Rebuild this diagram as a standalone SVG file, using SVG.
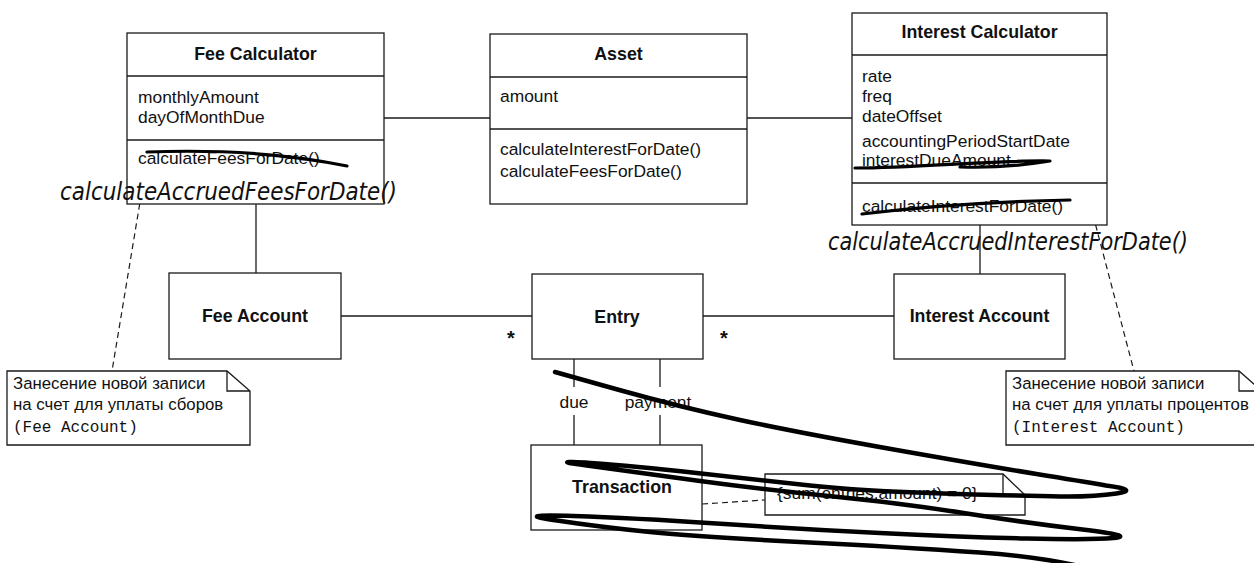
<svg xmlns="http://www.w3.org/2000/svg" width="1254" height="563" viewBox="0 0 1254 563">
<style>
.box{fill:#fff;stroke:#1a1a1a;stroke-width:1.3}
.sep{stroke:#1a1a1a;stroke-width:1.3}
.ln{stroke:#1a1a1a;stroke-width:1.3;fill:none}
.dash{stroke:#1a1a1a;stroke-width:1.2;fill:none;stroke-dasharray:6,4}
.t{font-family:"Liberation Sans",Arial,sans-serif;font-size:17.4px;fill:#111}
.n{font-family:"Liberation Sans",Arial,sans-serif;font-size:16.8px;fill:#111}
.b{font-family:"Liberation Sans",Arial,sans-serif;font-size:17.8px;font-weight:bold;fill:#111;text-anchor:middle}
.m{font-family:"Liberation Mono","Courier New",monospace;font-size:16px;fill:#111}
.hand{font-family:"DejaVu Sans",sans-serif;font-style:italic;font-size:24px;fill:#111}
.scr{fill:none;stroke:#000;stroke-width:4.5;stroke-linecap:round;stroke-linejoin:round}
.scr3{fill:none;stroke:#000;stroke-width:3.2;stroke-linecap:round;stroke-linejoin:round}
.star{font-family:"Liberation Sans",Arial,sans-serif;font-size:20px;font-weight:bold;fill:#111;text-anchor:middle}
</style>
<rect width="1254" height="563" fill="#fff"/>
<g id="connectors">
<line class="ln" x1="384" y1="118" x2="490" y2="118"/>
<line class="ln" x1="747" y1="118" x2="852" y2="118"/>
<line class="ln" x1="256" y1="204" x2="256" y2="273"/>
<line class="ln" x1="980" y1="225" x2="980" y2="274"/>
<line class="ln" x1="341" y1="316" x2="532" y2="316"/>
<line class="ln" x1="703" y1="316" x2="894" y2="316"/>
<line class="ln" x1="574" y1="359" x2="574" y2="387"/>
<line class="ln" x1="574" y1="415" x2="574" y2="445"/>
<line class="ln" x1="660" y1="359" x2="660" y2="387"/>
<line class="ln" x1="660" y1="415" x2="660" y2="445"/>
<text class="star" x="511" y="345">*</text>
<text class="star" x="724" y="345">*</text>
<text class="t" x="574" y="408" text-anchor="middle">due</text>
<text class="t" x="658" y="408" text-anchor="middle">payment</text>
<line class="dash" x1="143" y1="184" x2="112" y2="371"/>
<line class="dash" x1="1093" y1="215" x2="1134" y2="371"/>
<line class="dash" x1="702" y1="504" x2="765" y2="500"/>
<circle cx="143" cy="180" r="4" fill="#fff" stroke="#1a1a1a" stroke-width="1.2"/>
<circle cx="1093" cy="211" r="4" fill="#fff" stroke="#1a1a1a" stroke-width="1.2"/>
</g>
<g id="fee-calculator">
<rect class="box" x="127" y="33" width="257" height="171"/>
<line class="sep" x1="127" y1="76" x2="384" y2="76"/>
<line class="sep" x1="127" y1="140" x2="384" y2="140"/>
<text class="b" x="255.5" y="60">Fee Calculator</text>
<text class="t" x="138" y="103">monthlyAmount</text>
<text class="t" x="138" y="123">dayOfMonthDue</text>
<text class="t" x="138" y="164">calculateFeesForDate()</text>
</g>
<g id="asset">
<rect class="box" x="490" y="34" width="257" height="170"/>
<line class="sep" x1="490" y1="77" x2="747" y2="77"/>
<line class="sep" x1="490" y1="129" x2="747" y2="129"/>
<text class="b" x="618.5" y="60">Asset</text>
<text class="t" x="500" y="102">amount</text>
<text class="t" x="500" y="155">calculateInterestForDate()</text>
<text class="t" x="500" y="177">calculateFeesForDate()</text>
</g>
<g id="interest-calculator">
<rect class="box" x="852" y="13" width="255" height="212"/>
<line class="sep" x1="852" y1="55" x2="1107" y2="55"/>
<line class="sep" x1="852" y1="183" x2="1107" y2="183"/>
<text class="b" x="979.5" y="38">Interest Calculator</text>
<text class="t" x="862" y="82">rate</text>
<text class="t" x="862" y="102">freq</text>
<text class="t" x="862" y="122">dateOffset</text>
<text class="t" x="862" y="147">accountingPeriodStartDate</text>
<text class="t" x="862" y="166">interestDueAmount</text>
<text class="t" x="862" y="212">calculateInterestForDate()</text>
</g>
<g id="fee-account">
<rect class="box" x="169" y="273" width="172" height="86"/>
<text class="b" x="255" y="322">Fee Account</text>
</g>
<g id="entry">
<rect class="box" x="532" y="274" width="171" height="85"/>
<text class="b" x="617" y="323">Entry</text>
</g>
<g id="interest-account">
<rect class="box" x="894" y="274" width="171" height="85"/>
<text class="b" x="979.5" y="322">Interest Account</text>
</g>
<g id="transaction">
<rect class="box" x="531" y="445" width="171" height="85"/>
<text class="b" x="622" y="493">Transaction</text>
</g>
<g id="fee-note">
<path class="ln" d="M7 371 H227 L250 391 V445 H7 Z" fill="#fff"/>
<path class="ln" d="M227 371 V391 H250"/>
<text class="n" x="13" y="389">Занесение новой записи</text>
<text class="n" x="13" y="410">на счет для уплаты сборов</text>
<text class="m" x="13" y="432">(Fee Account)</text>
</g>
<g id="interest-note">
<path class="ln" d="M1006 371 H1239 L1262 391 V445 H1006 Z" fill="#fff"/>
<path class="ln" d="M1239 371 V391 H1262"/>
<text class="n" x="1012" y="389">Занесение новой записи</text>
<text class="n" x="1012" y="410">на счет для уплаты процентов</text>
<text class="m" x="1012" y="432">(Interest Account)</text>
</g>
<g id="constraint-note">
<path class="ln" d="M765 474 H1003 L1025 495 V515 H765 Z" fill="#fff"/>
<path class="ln" d="M1003 474 V495 H1025"/>
<text class="t" x="777" y="499">{sum(entries.amount) = 0}</text>
</g>
<g id="annotations">
<text class="hand" x="60" y="200" textLength="337" lengthAdjust="spacingAndGlyphs">calculateAccruedFeesForDate()</text>
<text class="hand" x="828" y="250" textLength="360" lengthAdjust="spacingAndGlyphs">calculateAccruedInterestForDate()</text>
<path class="scr3" d="M147 152 Q 260 148 347 166"/>
<path class="scr3" d="M855 168 C 920 168 990 160 1050 161 C 1020 166 990 168 960 167"/>
<path class="scr3" d="M862 214 Q 960 202 1070 200"/>
<path class="scr" d="M555 372 L617.5 389.5 Q680 407 740 420 Q800 433 896.5 450 Q993 467 1036.5 474 Q1080 481 1106 485.5 Q1140 490 1116.5 493.5 Q1093 497 1060 496.5 Q1027 496 943.5 493.5 Q860 491 810 485.5 Q760 480 696.5 473 Q633 466 590.5 463 Q544 460 590.5 466 Q633 472 700 481 Q767 490 833.5 496.5 Q900 503 963.5 513 Q1027 523 1082.5 529.5 Q1136 536 1113.5 538 Q1093 540 1026.5 538.5 Q960 537 880 533 Q800 529 716.5 523.5 Q633 518 573.5 516 Q510 514 557 520.5 Q600 527 650 532 Q700 537 800 542 Q900 547 980 552.5 Q1060 558 1112 575"/>
</g>
</svg>
